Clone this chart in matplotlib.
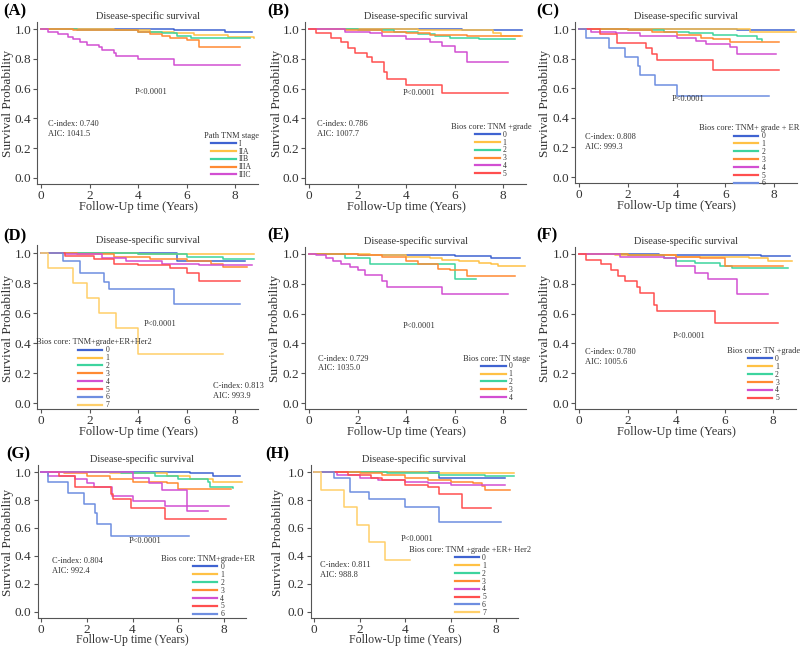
import matplotlib
matplotlib.use("Agg")
import matplotlib.pyplot as plt

plt.rcParams['font.family'] = ['Liberation Serif', 'DejaVu Serif']

# colours used by the strata (0..7)
COLS = ['#3F63D1', '#FFC145', '#3DD49E', '#FF8A33', '#D24FD2', '#FF4F4F', '#6E8EE0', '#FFCF6A']

# ---- (A) Path TNM stage
a_labels = ['I', 'IIA', 'IIB', 'IIIA', 'IIIC']
a_x = [
    [0, 5.5, 7.6, 8.7],
    [0, 3.0, 4.5, 5.5, 6.3, 7.7, 8.8],
    [0, 1.5, 4.0, 5.0, 5.6, 6.2, 8.6],
    [0, 1.3, 3.0, 4.0, 4.5, 5.0, 5.3, 6.0, 6.5, 8.2],
    [0, 0.3, 0.7, 1.1, 1.3, 1.6, 1.9, 2.4, 2.5, 3.0, 3.1, 4.0, 5.5, 8.2],
]
a_y = [
    [1.0, 0.99, 0.978, 0.978],
    [1.0, 0.99, 0.98, 0.97, 0.96, 0.945, 0.94],
    [1.0, 0.99, 0.98, 0.97, 0.955, 0.94, 0.94],
    [1.0, 0.995, 0.99, 0.98, 0.965, 0.95, 0.94, 0.925, 0.88, 0.88],
    [1.0, 0.98, 0.965, 0.945, 0.93, 0.915, 0.895, 0.88, 0.86, 0.84, 0.82, 0.80, 0.76, 0.76],
]

# ---- (B) Bios core: TNM +grade
b_labels = ['0', '1', '2', '3', '4', '5']
b_x = [
    [0, 6.3, 8.8],
    [0, 4.5, 6.2, 7.6, 7.9, 8.8],
    [0, 2.0, 3.5, 4.5, 5.2, 5.8, 7.0, 8.5],
    [0, 1.5, 3.0, 4.0, 5.0, 6.5, 8.7],
    [0, 1.5, 2.5, 3.0, 4.0, 5.0, 5.5, 6.0, 6.5, 8.2],
    [0, 0.3, 0.9, 1.3, 1.6, 1.9, 2.4, 2.6, 3.1, 3.2, 4.0, 5.5, 8.2],
]
b_y = [
    [1.0, 0.99, 0.99],
    [1.0, 0.995, 0.99, 0.97, 0.955, 0.955],
    [1.0, 0.99, 0.98, 0.965, 0.95, 0.94, 0.93, 0.93],
    [1.0, 0.995, 0.98, 0.97, 0.96, 0.95, 0.95],
    [1.0, 0.98, 0.97, 0.955, 0.935, 0.915, 0.885, 0.845, 0.78, 0.78],
    [1.0, 0.97, 0.94, 0.91, 0.87, 0.84, 0.81, 0.78, 0.71, 0.665, 0.625, 0.57, 0.57],
]

# ---- (C) Bios core: TNM+ grade + ER
c_labels = ['0', '1', '2', '3', '4', '5', '6']
c_x = [
    [0, 6.5, 8.8],
    [0, 7.0, 8.9],
    [0, 2.0, 3.5, 4.5, 5.5, 6.5, 7.3, 7.5],
    [0, 2.0, 3.0, 4.0, 5.0, 5.5, 6.2, 8.2],
    [0, 0.5, 1.5, 2.5, 4.0, 4.8, 5.2, 6.2, 6.5, 8.1],
    [0, 0.85, 1.55, 2.75, 3.0, 3.2, 5.5, 8.2],
    [0, 0.3, 1.25, 1.9, 2.4, 2.5, 3.1, 4.0, 7.8],
]
c_y = [
    [1.0, 0.995, 0.995],
    [1.0, 0.98, 0.98],
    [1.0, 0.99, 0.98, 0.97, 0.96, 0.95, 0.93, 0.92],
    [1.0, 0.99, 0.98, 0.96, 0.94, 0.93, 0.915, 0.915],
    [1.0, 0.98, 0.97, 0.955, 0.94, 0.92, 0.90, 0.88, 0.83, 0.83],
    [1.0, 0.965, 0.905, 0.875, 0.83, 0.79, 0.72, 0.72],
    [1.0, 0.94, 0.875, 0.81, 0.75, 0.69, 0.625, 0.545, 0.545],
]

# ---- (D) Bios core: TNM+grade+ER+Her2
d_labels = ['0', '1', '2', '3', '4', '5', '6', '7']
d_x = [
    [0, 5.6, 8.4],
    [0, 4.0, 8.8],
    [0, 4.0, 6.0, 7.5, 8.8],
    [0, 1.5, 3.0, 4.5, 6.0, 7.0, 7.5, 8.5],
    [0, 1.0, 2.5, 3.5, 5.0, 6.5, 8.7],
    [0, 1.0, 2.2, 3.0, 4.0, 5.3, 6.0, 6.5, 8.2],
    [0, 0.9, 1.6, 2.6, 2.8, 5.5, 8.2],
    [0, 0.3, 1.3, 1.9, 2.4, 3.1, 4.0, 7.5],
]
d_y = [
    [1.0, 0.945, 0.945],
    [1.0, 0.99, 0.99],
    [1.0, 0.99, 0.975, 0.96, 0.96],
    [1.0, 0.99, 0.975, 0.96, 0.945, 0.93, 0.905, 0.905],
    [1.0, 0.99, 0.97, 0.95, 0.93, 0.92, 0.92],
    [1.0, 0.98, 0.96, 0.93, 0.92, 0.90, 0.87, 0.815, 0.815],
    [1.0, 0.95, 0.87, 0.81, 0.76, 0.66, 0.66],
    [1.0, 0.90, 0.80, 0.70, 0.60, 0.50, 0.33, 0.33],
]

# ---- (E) Bios core: TN stage
e_labels = ['0', '1', '2', '3', '4']
e_x = [
    [0, 2.0, 3.5, 6.0, 7.5, 8.7],
    [0, 2.5, 4.0, 5.0, 5.5, 6.2, 7.0, 7.5, 7.8, 8.9],
    [0, 1.5, 2.5, 6.0, 6.9],
    [0, 2.0, 3.0, 4.0, 4.5, 5.3, 5.8, 6.5, 8.5],
    [0, 0.3, 0.7, 1.0, 1.3, 1.7, 2.0, 2.3, 3.0, 3.2, 5.5, 8.2],
]
e_y = [
    [1.0, 0.995, 0.99, 0.985, 0.975, 0.975],
    [1.0, 0.99, 0.98, 0.97, 0.96, 0.95, 0.94, 0.93, 0.92, 0.92],
    [1.0, 0.97, 0.93, 0.83, 0.83],
    [1.0, 0.99, 0.98, 0.95, 0.93, 0.90, 0.89, 0.855, 0.855],
    [1.0, 0.99, 0.97, 0.95, 0.93, 0.91, 0.89, 0.86, 0.82, 0.78, 0.73, 0.73],
]

# ---- (F) Bios core: TN +grade
f_labels = ['0', '1', '2', '3', '4', '5']
f_x = [
    [0, 3.3, 5.0, 7.5, 8.7],
    [0, 1.5, 4.0, 7.0, 7.8, 8.8],
    [0, 2.0, 3.5, 4.0, 4.8, 5.8, 6.3, 8.6],
    [0, 2.0, 4.0, 5.0, 6.0, 8.4],
    [0, 1.7, 3.5, 4.0, 4.8, 5.3, 6.5, 7.8],
    [0, 0.3, 0.9, 1.3, 1.6, 1.9, 2.4, 2.5, 3.1, 3.2, 5.6, 8.2],
]
f_y = [
    [1.0, 0.995, 0.99, 0.985, 0.985],
    [1.0, 0.99, 0.98, 0.97, 0.955, 0.955],
    [1.0, 0.99, 0.97, 0.955, 0.94, 0.92, 0.905, 0.905],
    [1.0, 0.99, 0.98, 0.97, 0.92, 0.92],
    [1.0, 0.98, 0.97, 0.92, 0.87, 0.83, 0.73, 0.73],
    [1.0, 0.96, 0.93, 0.89, 0.855, 0.82, 0.78, 0.74, 0.66, 0.615, 0.54, 0.54],
]

# ---- (G) Bios core: TNM+grade+ER (last curve is an extra unlabelled stratum)
g_labels = ['0', '1', '2', '3', '4', '5', '6', '_extra']
g_x = [
    [0, 6.5, 7.5, 8.7],
    [0, 3.0, 5.5, 6.5, 7.5, 8.8],
    [0, 3.5, 5.0, 6.0, 7.3, 7.4, 8.4],
    [0, 1.0, 2.0, 3.0, 4.0, 5.5, 6.0, 8.3],
    [0, 0.3, 1.5, 2.0, 2.3, 3.1, 4.0, 5.4, 8.2],
    [0, 0.8, 1.5, 3.05, 3.15, 3.95, 5.4, 8.1],
    [0, 0.3, 1.2, 1.9, 2.35, 2.45, 3.05, 6.45],
    [0, 4.0, 4.7, 5.3, 6.4, 7.3],
]
g_y = [
    [1.0, 0.99, 0.975, 0.975],
    [1.0, 0.99, 0.97, 0.95, 0.93, 0.93],
    [1.0, 0.99, 0.97, 0.95, 0.93, 0.89, 0.885],
    [1.0, 0.99, 0.97, 0.95, 0.93, 0.92, 0.88, 0.88],
    [1.0, 0.975, 0.95, 0.92, 0.89, 0.83, 0.79, 0.755, 0.755],
    [1.0, 0.97, 0.89, 0.84, 0.81, 0.74, 0.665, 0.665],
    [1.0, 0.93, 0.85, 0.775, 0.71, 0.63, 0.54, 0.54],
    [1.0, 0.96, 0.925, 0.87, 0.72, 0.72],
]
g_cols = COLS[:7] + [COLS[4]]

# ---- (H) Bios core: TNM +grade +ER+ Her2
h_labels = ['0', '1', '2', '3', '4', '5', '6', '7']
h_x = [
    [0, 5.5, 8.4],
    [0, 5.0, 8.8],
    [0, 3.2, 5.5, 7.5, 8.8],
    [0, 2.0, 3.0, 4.0, 5.0, 6.0, 7.0, 7.4, 7.5, 8.6],
    [0, 1.0, 2.0, 2.8, 4.0, 5.0, 6.0, 8.4],
    [0, 1.5, 2.5, 3.0, 4.0, 5.0, 5.5, 6.5, 7.8],
    [0, 0.9, 1.6, 2.4, 4.0, 5.5, 8.2],
    [0, 0.3, 1.3, 1.9, 2.4, 3.1, 4.2],
]
h_y = [
    [1.0, 0.96, 0.96],
    [1.0, 0.99, 0.99],
    [1.0, 0.99, 0.98, 0.97, 0.97],
    [1.0, 0.99, 0.98, 0.96, 0.94, 0.93, 0.92, 0.90, 0.87, 0.87],
    [1.0, 0.98, 0.96, 0.94, 0.93, 0.92, 0.91, 0.91],
    [1.0, 0.98, 0.96, 0.94, 0.91, 0.89, 0.84, 0.74, 0.74],
    [1.0, 0.955, 0.86, 0.81, 0.75, 0.64, 0.64],
    [1.0, 0.875, 0.75, 0.625, 0.50, 0.375, 0.375],
]

cindex = ['0.740', '0.786', '0.808', '0.813', '0.729', '0.780', '0.804', '0.811']
aic = ['1041.5', '1007.7', '999.3', '993.9', '1035.0', '1005.6', '992.4', '988.8']
leg_titles = ['Path TNM stage', 'Bios core: TNM +grade', 'Bios core: TNM+ grade + ER',
              'Bios core: TNM+grade+ER+Her2', 'Bios core: TN stage', 'Bios core: TN +grade',
              'Bios core: TNM+grade+ER', 'Bios core: TNM +grade +ER+ Her2']

W, H = 800, 648
XLIM = (-0.15, 8.95)
YLIM = (-0.04, 1.05)
TXT = '#333333'

fig = plt.figure(figsize=(8, 6.48), dpi=100)


def make_axes(x0, x8, y1, y0):
    # pixel positions of x=0, x=8, y=1, y=0
    ux = (x8 - x0) / 8
    uy = y0 - y1
    left = x0 + XLIM[0] * ux
    right = x0 + XLIM[1] * ux
    top = y0 - YLIM[1] * uy
    bottom = y0 - YLIM[0] * uy
    return fig.add_axes([left / W, 1 - bottom / H, (right - left) / W, (bottom - top) / H])


def panel(i, box, tag, tag_xy, ylab_x, xs, ys, labels, cols, p_xy, ci_xy, leg_xy,
          xlab_off=29.5, xlab_size=9):
    ax = make_axes(*box)
    for x, y, c, lab in zip(xs, ys, cols, labels):
        ax.step(x, y, where='post', color=c, lw=1.1, label=lab)
    ax.set_xlim(*XLIM)
    ax.set_ylim(*YLIM)
    ax.set_xticks([0, 2, 4, 6, 8])
    ax.set_yticks([0, 0.2, 0.4, 0.6, 0.8, 1.0])
    ax.set_yticklabels(['0.0', '0.2', '0.4', '0.6', '0.8', '1.0'])
    for s in ['top', 'right']:
        ax.spines[s].set_visible(False)
    for s in ['left', 'bottom']:
        ax.spines[s].set_color('#555555')
        ax.spines[s].set_linewidth(0.8)
    ax.tick_params(labelsize=9.5, colors='#555555', labelcolor=TXT, length=3, width=0.8, pad=1.5)
    ax.set_title('Disease-specific survival', fontsize=7.5, color=TXT, pad=2)
    ax.set_xlabel('Follow-Up time (Years)', fontsize=xlab_size, color=TXT)
    ax.set_ylabel('Survival Probability', fontsize=9.5, color=TXT)
    # label positions in figure pixels
    ax.xaxis.label.set_va('center')
    ax.xaxis.set_label_coords((box[0] + box[1]) / 2 / W, 1 - (box[3] + xlab_off) / H,
                              transform=fig.transFigure)
    ax.yaxis.label.set_va('center')
    ax.yaxis.set_label_coords(ylab_x / W, 1 - (box[2] + box[3]) / 2 / H,
                              transform=fig.transFigure)
    ax.text(p_xy[0], p_xy[1], 'P<0.0001', fontsize=6, color=TXT, ha='center', va='center')
    ax.text(ci_xy[0], ci_xy[1], f'C-index: {cindex[i]}\nAIC: {aic[i]}', fontsize=6,
            color=TXT, ha='left', va='center', linespacing=1.3)
    leg = ax.legend(title=leg_titles[i], loc='upper center', bbox_to_anchor=leg_xy,
                    bbox_transform=ax.transData, frameon=False, fontsize=5.5,
                    title_fontsize=6.0, handlelength=3.2, handletextpad=0.4,
                    labelspacing=-0.02, borderpad=0, borderaxespad=0)
    for ln in leg.get_lines():
        ln.set_linewidth(1.6)
    for t in leg.get_texts():
        t.set_color(TXT)
    leg.get_title().set_color(TXT)
    fig.text(tag_xy[0] / W, 1 - tag_xy[1] / H, tag, fontsize=12, fontweight='bold',
             ha='left', va='center')
    return ax


panel(0, (41, 235, 29, 178), '(A)', (3, 11), 8, a_x, a_y, a_labels, COLS,
      (4.54, 0.58), (0.3, 0.33), (7.85, 0.31))
panel(1, (309, 503, 29, 178), '(B)', (267, 11), 277, b_x, b_y, b_labels, COLS,
      (4.54, 0.57), (0.34, 0.33), (7.5, 0.37))
panel(2, (579, 774, 29, 177), '(C)', (536, 11), 545, c_x, c_y, c_labels, COLS,
      (4.48, 0.53), (0.23, 0.235), (7.0, 0.355))
panel(3, (41, 235, 253, 403), '(D)', (3, 236), 8, d_x, d_y, d_labels, COLS,
      (4.92, 0.53), (7.09, 0.08), (2.17, 0.43))
panel(4, (309, 503, 254, 403), '(E)', (267, 235), 275, e_x, e_y, e_labels, COLS,
      (4.54, 0.52), (0.37, 0.265), (7.75, 0.325))
panel(5, (579, 773, 254, 403), '(F)', (536, 235), 545, f_x, f_y, f_labels, COLS,
      (4.54, 0.453), (0.23, 0.31), (7.6, 0.375))
panel(6, (41, 224, 472, 612), '(G)', (6, 454), 8, g_x, g_y, g_labels, g_cols,
      (4.55, 0.51), (0.47, 0.33), (7.32, 0.405), xlab_off=28.5, xlab_size=8.5)
panel(7, (314, 496, 472, 612), '(H)', (265, 454), 278, h_x, h_y, h_labels, COLS,
      (4.52, 0.52), (0.26, 0.30), (6.87, 0.47), xlab_off=28.5, xlab_size=8.5)

fig.savefig('out.png', dpi=100)
